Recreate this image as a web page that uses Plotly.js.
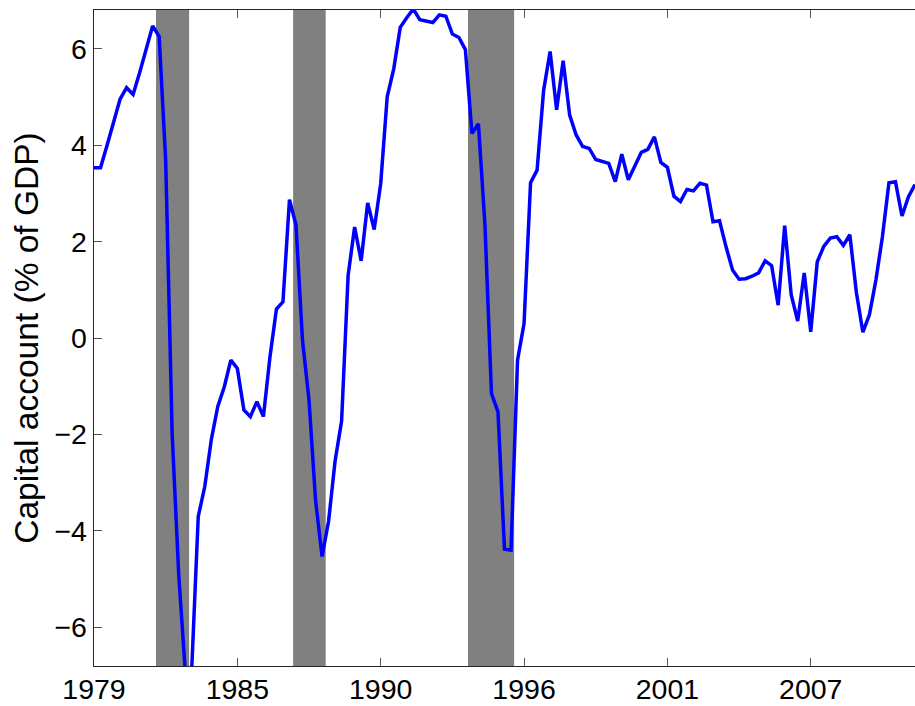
<!DOCTYPE html>
<html>
<head>
<meta charset="utf-8">
<script src="https://cdn.plot.ly/plotly-3.0.1.min.js"></script>
<style>html,body{margin:0;padding:0;background:#fff;}#chart{width:915px;height:706px;}</style>
</head>
<body>
<div id="chart"></div>
<script>
// Quarterly capital account, % of GDP, starting 1979Q1
const startYear = 1979;
const capitalAccount = [
  3.53, 3.53, 3.99, 4.50, 4.95, 5.19, 5.05, 5.50, 6.00, 6.47,
  6.25, 3.69, -2.00, -4.90, -6.90, -6.85, -3.70, -3.08, -2.11, -1.42,
  -1.01, -0.46, -0.63, -1.49, -1.63, -1.32, -1.63, -0.40, 0.60, 0.75,
  2.87, 2.34, -0.05, -1.29, -3.36, -4.53, -3.80, -2.55, -1.72, 1.30,
  2.30, 1.60, 2.80, 2.25, 3.20, 5.00, 5.58, 6.44, 6.64, 6.82,
  6.60, 6.57, 6.54, 6.70, 6.67, 6.30, 6.23, 5.98, 4.24, 4.44,
  2.35, -1.15, -1.53, -4.38, -4.40, -0.46, 0.30, 3.22, 3.48, 5.13,
  5.94, 4.73, 5.75, 4.62, 4.21, 3.97, 3.93, 3.70, 3.66, 3.62,
  3.24, 3.81, 3.28, 3.55, 3.85, 3.91, 4.17, 3.64, 3.54, 2.94,
  2.83, 3.08, 3.05, 3.21, 3.17, 2.41, 2.43, 1.89, 1.41, 1.22,
  1.23, 1.28, 1.35, 1.60, 1.50, 0.68, 2.33, 0.90, 0.35, 1.35,
  0.13, 1.58, 1.90, 2.07, 2.10, 1.92, 2.14, 0.95, 0.12, 0.48,
  1.20, 2.10, 3.22, 3.24, 2.53, 2.93, 3.18
];
// Shaded crisis periods (decimal years)
const crisisStart = [1981.38, 1986.64, 1993.35];
const crisisEnd   = [1982.65, 1987.89, 1995.12];
// Axis ticks
const xTickVals = [1979, 1984.5, 1990, 1995.5, 2001, 2006.5];
const xTickText = ['1979', '1985', '1990', '1996', '2001', '2007'];
const yTickVals = [-6, -4, -2, 0, 2, 4, 6];

const quarters = capitalAccount.map((_, i) => startYear + i / 4);

const shapes = crisisStart.map((s, k) => ({
  type: 'rect', xref: 'x', yref: 'paper',
  x0: s, x1: crisisEnd[k], y0: 0, y1: 1,
  fillcolor: '#808080', line: {width: 0}, layer: 'below'
}));

const font = 'Liberation Sans, Arial, Helvetica, sans-serif';

Plotly.newPlot('chart', [{
  x: quarters, y: capitalAccount,
  type: 'scatter', mode: 'lines',
  line: {color: '#0000ff', width: 3.5},
  hoverinfo: 'x+y', showlegend: false
}], {
  width: 915, height: 706,
  margin: {l: 94, r: 0, t: 10, b: 40, pad: 0},
  paper_bgcolor: '#ffffff', plot_bgcolor: '#ffffff',
  font: {family: font, color: '#000000', size: 28},
  shapes: shapes,
  xaxis: {
    range: [1979, 2010.5], showgrid: false, zeroline: false,
    tickmode: 'array', tickvals: xTickVals, ticktext: xTickText,
    ticks: 'inside', ticklen: 8, tickwidth: 1, tickcolor: '#555555',
    showline: true, linecolor: '#262626', linewidth: 1.4, mirror: 'ticks',
    ticklabelstandoff: -3,
    tickfont: {family: font, size: 28.5, color: '#000000'}
  },
  yaxis: {
    range: [-6.8, 6.8], showgrid: false, zeroline: false,
    tickmode: 'array', tickvals: yTickVals,
    ticks: 'inside', ticklen: 8, tickwidth: 1, tickcolor: '#555555',
    showline: true, linecolor: '#262626', linewidth: 1.4, mirror: false,
    tickfont: {family: font, size: 28.5, color: '#000000'},
    title: {text: 'Capital account (% of GDP)', font: {family: font, size: 33.5, color: '#000000'}, standoff: 5},
    automargin: false
  }
}, {displayModeBar: false, staticPlot: true});
</script>
</body>
</html>
